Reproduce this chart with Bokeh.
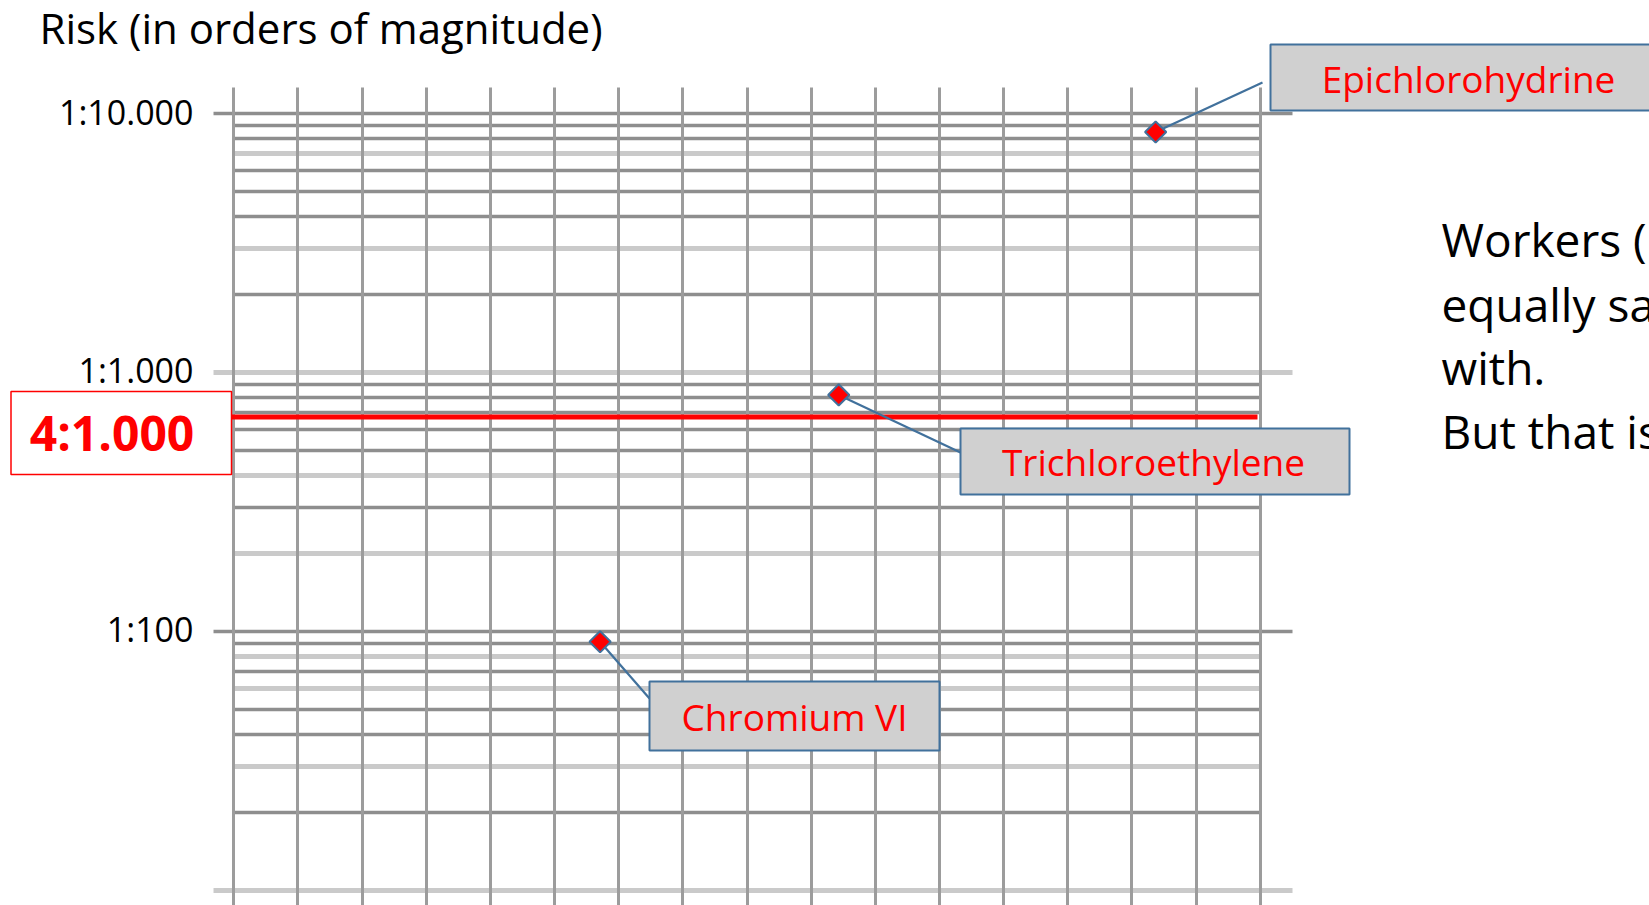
from bokeh.plotting import figure
from bokeh.models import Range1d, FixedTicker, Grid, Label, BoxAnnotation, ColumnDataSource
from bokeh.core.properties import value
from bokeh.embed import file_html
from bokeh.resources import INLINE

# ---------------- data ----------------
substances = ["Epichlorohydrine", "Trichloroethylene", "Chromium VI"]
substance_pos = [14.37, 9.43, 5.71]          # horizontal position (grid columns)
risk_one_in = [8480, 818, 91]                # risk expressed as 1 in N
threshold_text = "4:1.000"
threshold_one_in = 672
major_ticks = [10, 100, 1000, 10000]
major_labels = ["", "1:100", "1:1.000", "1:10.000"]
columns = list(range(17))
title_text = "Risk (in orders of magnitude)"
side_text = ["Workers (", "equally sa", "with.", "But that is"]

# ---------------- layout helpers (page pixel -> data) ----------------
W, H = 1649, 905
X0, DX = 233.3, 64.15
Y4, DEC = 113.0, 258.85


def xd(px):
    return (px - X0) / DX


def yd(py):
    return 10 ** (4 - (py - Y4) / DEC)


FONT = "Open Sans"

p = figure(width=W, height=H, output_backend="svg", toolbar_location=None,
           y_axis_type="log", x_axis_location=None, y_axis_location=None,
           x_range=Range1d(xd(0), xd(W)), y_range=Range1d(yd(H), yd(0)),
           min_border=0, title=None)
p.outline_line_color = None
p.background_fill_color = "white"
p.border_fill_color = "white"
for g in p.grid:
    g.visible = False

# ---------------- grid lines ----------------
minor_levels = [d * k for d in major_ticks[:-1] for k in range(2, 10)]
light_set = {10, 30, 60, 80, 200, 400, 1000, 3000, 7000}
LIGHT = dict(color="#cacaca", width=5)
DARK = dict(color="#8e8e8e", width=3.5)
minor_span = (-0.02, 16.02)
major_span = (xd(213), xd(1292))
col_span = (yd(H + 5), yd(87))

h_groups = [
    ([v for v in minor_levels if v in light_set], minor_span, LIGHT),
    ([v for v in major_ticks if v in light_set], major_span, LIGHT),
    ([v for v in minor_levels if v not in light_set], minor_span, DARK),
    ([v for v in major_ticks if v not in light_set], major_span, DARK),
]

has_cross = "cross_bounds" in Grid.properties()
for levels, span, st in h_groups:
    if has_cross:
        p.add_layout(Grid(dimension=1, ticker=FixedTicker(ticks=levels), cross_bounds=span,
                          grid_line_color=st["color"], grid_line_width=st["width"]))
    else:
        p.segment(x0=[span[0]] * len(levels), x1=[span[1]] * len(levels), y0=levels, y1=levels,
                  line_color=st["color"], line_width=st["width"], level="underlay")
if has_cross:
    p.add_layout(Grid(dimension=0, ticker=FixedTicker(ticks=columns), cross_bounds=col_span,
                      grid_line_color="#9c9c9c", grid_line_width=3))
else:
    p.segment(x0=columns, x1=columns, y0=[col_span[0]] * len(columns), y1=[col_span[1]] * len(columns),
              line_color="#9c9c9c", line_width=3, level="underlay")

# ---------------- tick labels ----------------
p.text(x=[xd(193)] * len(major_ticks), y=major_ticks, text=major_labels,
       text_align="right", text_baseline="middle", y_offset=-2,
       text_font=value(FONT), text_font_size="34px", text_color="black")

# ---------------- threshold line ----------------
p.segment(x0=[xd(231)], x1=[xd(1257)], y0=[threshold_one_in], y1=[threshold_one_in],
          line_color="red", line_width=5)

# ---------------- leaders and points ----------------
leader_end_px = [(1262, 82), (960, 452), (649, 698)]
src = ColumnDataSource(dict(x=substance_pos, y=risk_one_in,
                            ex=[xd(a) for a, b in leader_end_px],
                            ey=[yd(b) for a, b in leader_end_px]))
p.segment(x0="x", y0="y", x1="ex", y1="ey", source=src, line_color="#41719c", line_width=2.2)
p.scatter(x="x", y="y", source=src, marker="square", angle=0.785398, size=15,
          fill_color="red", line_color="#41719c", line_width=2)


def box(l, r, t, b, **kw):
    return BoxAnnotation(left=xd(l), right=xd(r), top=yd(t), bottom=yd(b), **kw)


def label(cx, cy, text, **kw):
    return Label(x=xd(cx), y=yd(cy), text=text, text_font=FONT, **kw)


# ---------------- callouts ----------------
boxes_px = [(1270, 1720, 44, 110), (960, 1349, 428, 494), (649, 939, 681, 750)]
text_center_px = [(1468, 78), (1153, 461), (794, 716)]
for name, (l, r, t, b), (cx, cy) in zip(substances, boxes_px, text_center_px):
    p.add_layout(box(l, r, t, b, fill_color="#d0d0d0", fill_alpha=1.0,
                     line_color="#41719c", line_width=2, line_alpha=1.0))
    p.add_layout(label(cx, cy, name, text_align="center", text_baseline="middle",
                       text_color="red", text_font_size="37px"))

# ---------------- threshold box ----------------
p.add_layout(box(10.5, 231, 391, 474, fill_color="white", fill_alpha=1.0,
                 line_color="red", line_width=1.5, line_alpha=1.0))
p.add_layout(label(111.5, 432, threshold_text, text_align="center", text_baseline="middle",
                   text_color="red", text_font_style="bold", text_font_size="48px"))

# ---------------- title ----------------
p.add_layout(label(39, 27, title_text, text_align="left", text_baseline="middle",
                   text_color="black", text_font_size="42px"))

# ---------------- side text (cut by the page edge, as in the slide) ----------------
for line, cy in zip(side_text, [238, 303, 366, 430]):
    p.add_layout(label(1441, cy, line, text_align="left", text_baseline="middle",
                       text_color="black", text_font_size="46px"))

open("out.html", "w").write(file_html(p, INLINE))
